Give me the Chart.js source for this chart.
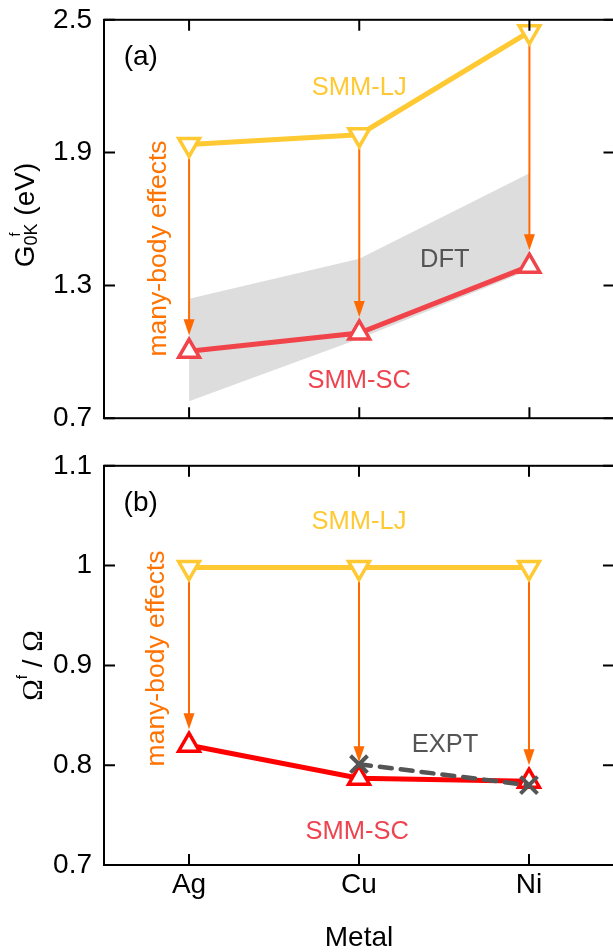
<!DOCTYPE html>
<html>
<head>
<meta charset="utf-8">
<script src="https://cdn.jsdelivr.net/npm/chart.js@4/dist/chart.umd.min.js"></script>
<style>
  html, body { margin: 0; padding: 0; background: #fff; overflow: hidden; width: 613px; height: 952px; position: relative; }
  canvas { position: absolute; }
</style>
</head>
<body>
<canvas id="chartA" width="620" height="440"></canvas>
<canvas id="chartB" width="620" height="530"></canvas>
<script>
// metals on the x axis
var metals = ["Ag", "Cu", "Ni"];

// (a) vacancy formation free energy at 0 K, eV
var energyLJ = [1.937, 1.981, 2.446];
var energySC = [1.002, 1.085, 1.387];
var energyDftLow = [0.777, 1.059, 1.370];
var energyDftHigh = [1.240, 1.420, 1.807];
var energyTicks = [0.7, 1.3, 1.9, 2.5];

// (b) formation volume over atomic volume
var volumeLJ = [0.998, 0.998, 0.998];
var volumeSC = [0.820, 0.787, 0.784];
var volumeExpt = [null, 0.801, 0.780];
var volumeTicks = [0.7, 0.8, 0.9, 1.0, 1.1];

var FONT = "'Liberation Sans', Arial, sans-serif";
var SERIF = "'Liberation Serif', 'Times New Roman', serif";
var YELLOW = "#FFC933";
var RED_A = "#F0444A";
var RED_B = "#FF0000";
var RED_TEXT = "#EE4450";
var ORANGE = "#FF6A00";
var ORANGE_TEXT = "#FF7300";
var GREY = "#555555";
var BAND = "#DDDDDD";

function pts(vals) {
  var out = [];
  vals.forEach(function (v, i) { out.push({ x: i, y: v }); });
  return out;
}

function fmt(v) {
  return String(Math.round(v * 10) / 10);
}

function markerLine(vals, color, down) {
  return {
    data: pts(vals),
    borderColor: color,
    borderWidth: 5,
    pointStyle: "triangle",
    pointRotation: down ? 180 : 0,
    pointRadius: 12,
    pointBorderWidth: 3.5,
    pointBorderColor: color,
    pointBackgroundColor: "#fff",
    tension: 0,
    fill: false,
    order: 1
  };
}

// frame round the plot with inward ticks on all four sides
var framePlugin = {
  id: "frame",
  afterDatasetsDraw: function (chart, args, opts) {
    var ctx = chart.ctx, a = chart.chartArea;
    var xs = chart.scales.x, ys = chart.scales.y;
    var len = 11;
    ctx.save();
    ctx.strokeStyle = "#000";
    ctx.lineWidth = 2;
    ctx.strokeRect(a.left, a.top, a.right - a.left, a.bottom - a.top);
    ctx.beginPath();
    metals.forEach(function (m, i) {
      var px = xs.getPixelForValue(i);
      ctx.moveTo(px, a.top); ctx.lineTo(px, a.top + len);
      ctx.moveTo(px, a.bottom); ctx.lineTo(px, a.bottom - len);
    });
    opts.ticks.forEach(function (v) {
      var py = ys.getPixelForValue(v);
      ctx.moveTo(a.left, py); ctx.lineTo(a.left + len, py);
      ctx.moveTo(a.right, py); ctx.lineTo(a.right - len, py);
    });
    ctx.stroke();
    ctx.restore();
  }
};

// orange arrows from the pair-potential value down to the many-body value
function drawArrows(chart, fromVals, toVals) {
  var ctx = chart.ctx, xs = chart.scales.x, ys = chart.scales.y;
  ctx.save();
  ctx.strokeStyle = ORANGE;
  ctx.fillStyle = ORANGE;
  ctx.lineWidth = 2;
  fromVals.forEach(function (v, i) {
    var px = xs.getPixelForValue(i);
    var y0 = ys.getPixelForValue(v);
    var tip = ys.getPixelForValue(toVals[i]) - 12 - 4;
    var head = 16;
    ctx.beginPath();
    ctx.moveTo(px, y0);
    ctx.lineTo(px, tip - head + 2);
    ctx.stroke();
    ctx.beginPath();
    ctx.moveTo(px - 5.5, tip - head);
    ctx.lineTo(px + 5.5, tip - head);
    ctx.lineTo(px, tip);
    ctx.closePath();
    ctx.fill();
  });
  ctx.restore();
}

var arrowPlugin = {
  id: "arrows",
  beforeDatasetsDraw: function (chart, args, opts) {
    if (!opts.after) drawArrows(chart, opts.from, opts.to);
  },
  afterDatasetDraw: function (chart, args, opts) {
    if (opts.after && chart.data.datasets[args.index].label === opts.after) drawArrows(chart, opts.from, opts.to);
  }
};

// free text labels placed in data coordinates, plus the y axis title
var notesPlugin = {
  id: "notes",
  afterDraw: function (chart, args, opts) {
    var ctx = chart.ctx, xs = chart.scales.x, ys = chart.scales.y;
    ctx.save();
    ctx.textAlign = "center";
    ctx.textBaseline = "middle";
    opts.items.forEach(function (n) {
      var px = xs.getPixelForValue(n.x), py = ys.getPixelForValue(n.y);
      ctx.font = n.size + "px " + FONT;
      ctx.fillStyle = n.color;
      ctx.save();
      ctx.translate(px, py);
      if (n.rotate) ctx.rotate(-Math.PI / 2);
      ctx.fillText(n.text, 0, 0);
      ctx.restore();
    });
    ctx.restore();

    // rotated title built from pieces (super- and subscripts share one slot)
    var t = opts.title;
    var a = chart.chartArea;
    ctx.save();
    ctx.fillStyle = "#000";
    ctx.textAlign = "left";
    ctx.textBaseline = "alphabetic";
    ctx.translate(a.left - t.gap, (a.top + a.bottom) / 2 + t.shift);
    ctx.rotate(-Math.PI / 2);
    var total = 0;
    t.parts.forEach(function (p) {
      if (p.stack) {
        var w = 0;
        p.stack.forEach(function (s) { ctx.font = s.size + "px " + (s.family || FONT); s.w = ctx.measureText(s.t).width; w = Math.max(w, s.w); });
        p.w = w;
      } else {
        ctx.font = p.size + "px " + (p.family || FONT);
        p.w = ctx.measureText(p.t).width;
      }
      total += p.w;
    });
    var cx = -total / 2;
    t.parts.forEach(function (p) {
      if (p.stack) {
        p.stack.forEach(function (s) {
          ctx.font = s.size + "px " + (s.family || FONT);
          ctx.fillText(s.t, cx + (s.dx || 0), s.dy);
        });
      } else {
        ctx.font = p.size + "px " + (p.family || FONT);
        ctx.fillText(p.t, cx, 0);
      }
      cx += p.w;
    });
    ctx.restore();
  }
};

function xScale(showLabels, height) {
  return {
    type: "linear",
    min: -0.5,
    max: 2.5,
    grid: { display: false, drawTicks: false },
    border: { display: false },
    afterBuildTicks: function (s) { s.ticks = metals.map(function (m, i) { return { value: i }; }); },
    afterFit: function (s) { s.height = height; },
    ticks: {
      display: showLabels,
      padding: 3,
      color: "#000",
      font: { family: FONT, size: 28 },
      callback: function (v) { return metals[v]; }
    },
    title: {
      display: showLabels,
      text: "Metal",
      color: "#000",
      font: { family: FONT, size: 28 },
      padding: { top: 0, bottom: 0 }
    }
  };
}

function yScale(min, max, ticks) {
  return {
    type: "linear",
    min: min,
    max: max,
    grid: { display: false, drawTicks: false },
    border: { display: false },
    afterBuildTicks: function (s) { s.ticks = ticks.map(function (v) { return { value: v }; }); },
    afterFit: function (s) { s.width = 104; },
    ticks: {
      padding: 12,
      color: "#000",
      font: { family: FONT, size: 28 },
      callback: function (v) { return fmt(v); }
    }
  };
}

function baseOptions(xs, ys) {
  return {
    responsive: false,
    animation: false,
    devicePixelRatio: 1,
    layout: { padding: { top: 0, right: 0, left: 0, bottom: 0 } },
    scales: { x: xs, y: ys },
    plugins: { legend: { display: false }, tooltip: { enabled: false } }
  };
}

function configA() {
  var opts = baseOptions(xScale(false, 12), yScale(0.7, 2.5, energyTicks));
  opts.plugins.frame = { ticks: energyTicks };
  opts.plugins.arrows = { from: energyLJ, to: energySC, after: "DFT" };
  opts.plugins.notes = {
    items: [
      { text: "(a)", x: -0.284, y: 2.332, color: "#000", size: 28 },
      { text: "SMM-LJ", x: 1.0, y: 2.19, color: YELLOW, size: 25.5 },
      { text: "many-body effects", x: -0.18, y: 1.467, color: ORANGE_TEXT, size: 26.5, rotate: true },
      { text: "DFT", x: 1.503, y: 1.413, color: GREY, size: 25.5 },
      { text: "SMM-SC", x: 1.0, y: 0.870, color: RED_TEXT, size: 25.5 }
    ],
    title: {
      gap: 70, shift: -4,
      parts: [
        { t: "G", size: 28 },
        { stack: [ { t: "0K", size: 18, dy: 3 }, { t: "f", size: 14, dy: -14, dx: 9 } ] },
        { t: " (eV)", size: 28 }
      ]
    }
  };
  return {
    type: "line",
    data: {
      datasets: [
        Object.assign(markerLine(energyLJ, YELLOW, true), { label: "SMM-LJ" }),
        Object.assign(markerLine(energySC, RED_A, false), { label: "SMM-SC" }),
        { label: "DFT low", data: pts(energyDftLow), borderWidth: 0, pointRadius: 0, fill: false, order: 10 },
        { label: "DFT", data: pts(energyDftHigh), borderWidth: 0, pointRadius: 0, fill: "-1", backgroundColor: BAND, order: 9 }
      ]
    },
    options: opts,
    plugins: [framePlugin, arrowPlugin, notesPlugin]
  };
}

function configB() {
  var opts = baseOptions(xScale(true, 90), yScale(0.7, 1.1, volumeTicks));
  opts.plugins.frame = { ticks: volumeTicks };
  opts.plugins.arrows = { from: volumeLJ, to: volumeSC, after: null };
  opts.plugins.notes = {
    items: [
      { text: "(b)", x: -0.284, y: 1.0625, color: "#000", size: 28 },
      { text: "SMM-LJ", x: 1.0, y: 1.044, color: YELLOW, size: 25.5 },
      { text: "many-body effects", x: -0.19, y: 0.907, color: ORANGE_TEXT, size: 26.5, rotate: true },
      { text: "EXPT", x: 1.506, y: 0.82, color: GREY, size: 25.5 },
      { text: "SMM-SC", x: 0.99, y: 0.733, color: RED_TEXT, size: 25.5 }
    ],
    title: {
      gap: 62, shift: 0,
      parts: [
        { t: "\u03A9", size: 29, family: SERIF },
        { stack: [ { t: "f", size: 15, dy: -15 } ] },
        { t: " / ", size: 28 },
        { t: "\u03A9", size: 29, family: SERIF }
      ]
    }
  };
  return {
    type: "line",
    data: {
      datasets: [
        Object.assign(markerLine(volumeLJ, YELLOW, true), { label: "SMM-LJ", order: 2 }),
        Object.assign(markerLine(volumeSC, RED_B, false), { label: "SMM-SC", order: 2 }),
        {
          label: "EXPT",
          data: pts(volumeExpt),
          borderColor: GREY,
          borderWidth: 4.5,
          borderDash: [12, 9],
          borderCapStyle: "round",
          pointStyle: "crossRot",
          pointRadius: 12,
          pointBorderWidth: 4,
          pointBorderColor: GREY,
          tension: 0,
          fill: false,
          order: 1
        }
      ]
    },
    options: opts,
    plugins: [framePlugin, arrowPlugin, notesPlugin]
  };
}

// build once, measure the plot box, then resize and shift the canvas
// so that the plot box sits where the panel needs it
function place(id, makeConfig, box) {
  var canvas = document.getElementById(id);
  var chart = new Chart(canvas, makeConfig());
  var ca = chart.chartArea;
  var w = Math.round(canvas.width + (box.right - box.left) - (ca.right - ca.left));
  var h = Math.round(canvas.height + (box.bottom - box.top) - (ca.bottom - ca.top));
  chart.destroy();
  canvas.width = w;
  canvas.height = h;
  chart = new Chart(canvas, makeConfig());
  ca = chart.chartArea;
  canvas.style.left = (box.left - ca.left) + "px";
  canvas.style.top = (box.top - ca.top) + "px";
  return chart;
}

place("chartA", configA, { left: 104, top: 19.5, right: 614, bottom: 417.5 });
place("chartB", configB, { left: 104, top: 466, right: 614, bottom: 865 });
</script>
</body>
</html>
